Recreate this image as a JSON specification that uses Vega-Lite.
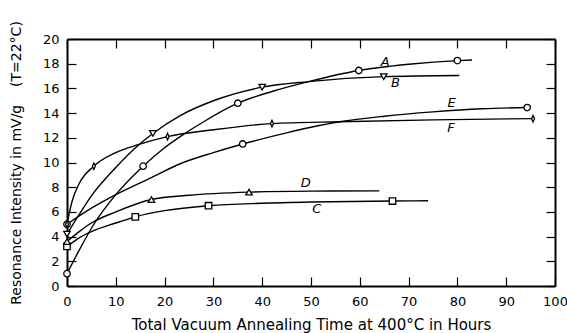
{
  "$schema": "https://vega.github.io/schema/vega-lite/v6.json",
  "width": 488,
  "height": 247,
  "autosize": {"type": "none"},
  "padding": {"left": 67, "top": 39, "right": 12, "bottom": 47},
  "background": "white",
  "config": {
    "view": {"stroke": null},
    "font": "DejaVu Sans",
    "axis": {
      "grid": false,
      "domainColor": "black",
      "domainWidth": 2,
      "tickColor": "black",
      "tickWidth": 1.2,
      "tickSize": -9,
      "labelColor": "black",
      "labelFont": "DejaVu Sans",
      "labelFontSize": 13,
      "titleColor": "black",
      "titleFont": "DejaVu Sans",
      "titleFontWeight": "normal"
    }
  },
  "datasets": {
    "curves": [
      {"series": "A", "x": 0, "y": 1.0}, {"series": "A", "x": 2.5, "y": 2.9}, {"series": "A", "x": 5.5, "y": 5.0},
      {"series": "A", "x": 10, "y": 7.4}, {"series": "A", "x": 15.6, "y": 9.7}, {"series": "A", "x": 20, "y": 11.2},
      {"series": "A", "x": 23.2, "y": 12.1}, {"series": "A", "x": 28, "y": 13.3}, {"series": "A", "x": 35, "y": 14.8},
      {"series": "A", "x": 42, "y": 15.75}, {"series": "A", "x": 49.5, "y": 16.55}, {"series": "A", "x": 59.8, "y": 17.45},
      {"series": "A", "x": 70, "y": 17.95}, {"series": "A", "x": 80, "y": 18.25}, {"series": "A", "x": 83, "y": 18.3},
      {"series": "B", "x": 0, "y": 4.2}, {"series": "B", "x": 2.5, "y": 5.8}, {"series": "B", "x": 5, "y": 7.3},
      {"series": "B", "x": 10, "y": 9.6}, {"series": "B", "x": 14.6, "y": 11.4}, {"series": "B", "x": 17.6, "y": 12.35},
      {"series": "B", "x": 23.2, "y": 13.8}, {"series": "B", "x": 30, "y": 15.0}, {"series": "B", "x": 40, "y": 16.1},
      {"series": "B", "x": 49.5, "y": 16.55}, {"series": "B", "x": 65, "y": 16.95}, {"series": "B", "x": 80.4, "y": 17.05},
      {"series": "C", "x": 0, "y": 3.2}, {"series": "C", "x": 2.5, "y": 3.9}, {"series": "C", "x": 5, "y": 4.4},
      {"series": "C", "x": 10, "y": 5.1}, {"series": "C", "x": 14, "y": 5.6}, {"series": "C", "x": 20, "y": 6.1},
      {"series": "C", "x": 29, "y": 6.5}, {"series": "C", "x": 40, "y": 6.7}, {"series": "C", "x": 50, "y": 6.8},
      {"series": "C", "x": 66.7, "y": 6.88}, {"series": "C", "x": 74, "y": 6.9},
      {"series": "D", "x": 0, "y": 3.6}, {"series": "D", "x": 2.5, "y": 4.4}, {"series": "D", "x": 5, "y": 5.1},
      {"series": "D", "x": 10, "y": 6.0}, {"series": "D", "x": 17.3, "y": 7.0}, {"series": "D", "x": 25, "y": 7.35},
      {"series": "D", "x": 37.3, "y": 7.6}, {"series": "D", "x": 50, "y": 7.68}, {"series": "D", "x": 64, "y": 7.7},
      {"series": "E", "x": 0, "y": 5.0}, {"series": "E", "x": 5, "y": 6.3}, {"series": "E", "x": 10, "y": 7.4},
      {"series": "E", "x": 17.4, "y": 8.8}, {"series": "E", "x": 23.2, "y": 9.9}, {"series": "E", "x": 30, "y": 10.8},
      {"series": "E", "x": 36, "y": 11.5}, {"series": "E", "x": 45, "y": 12.4}, {"series": "E", "x": 50, "y": 12.85},
      {"series": "E", "x": 55.9, "y": 13.3}, {"series": "E", "x": 65, "y": 13.75}, {"series": "E", "x": 75, "y": 14.1},
      {"series": "E", "x": 85, "y": 14.35}, {"series": "E", "x": 94.3, "y": 14.45},
      {"series": "F", "x": 0, "y": 5.0}, {"series": "F", "x": 1, "y": 6.8}, {"series": "F", "x": 2.5, "y": 8.3},
      {"series": "F", "x": 5.5, "y": 9.7}, {"series": "F", "x": 10, "y": 10.8}, {"series": "F", "x": 14.6, "y": 11.45},
      {"series": "F", "x": 20.6, "y": 12.1}, {"series": "F", "x": 30, "y": 12.65}, {"series": "F", "x": 42, "y": 13.15},
      {"series": "F", "x": 55.9, "y": 13.3}, {"series": "F", "x": 75, "y": 13.45}, {"series": "F", "x": 95.5, "y": 13.55}
    ],
    "points": [
      {"series": "A", "x": 0, "y": 1.0}, {"series": "A", "x": 15.6, "y": 9.7}, {"series": "A", "x": 35, "y": 14.8},
      {"series": "A", "x": 59.8, "y": 17.45}, {"series": "A", "x": 80, "y": 18.25},
      {"series": "B", "x": 0, "y": 4.2}, {"series": "B", "x": 17.6, "y": 12.35}, {"series": "B", "x": 40, "y": 16.1},
      {"series": "B", "x": 64.9, "y": 16.95},
      {"series": "C", "x": 0, "y": 3.2}, {"series": "C", "x": 14, "y": 5.6}, {"series": "C", "x": 29, "y": 6.5},
      {"series": "C", "x": 66.7, "y": 6.88},
      {"series": "D", "x": 0, "y": 3.6}, {"series": "D", "x": 17.3, "y": 7.0}, {"series": "D", "x": 37.3, "y": 7.6},
      {"series": "E", "x": 0, "y": 5.0}, {"series": "E", "x": 36, "y": 11.5}, {"series": "E", "x": 94.3, "y": 14.45},
      {"series": "F", "x": 0, "y": 5.0}, {"series": "F", "x": 5.5, "y": 9.7}, {"series": "F", "x": 20.6, "y": 12.1},
      {"series": "F", "x": 42, "y": 13.15}, {"series": "F", "x": 95.5, "y": 13.55}
    ],
    "labels": [
      {"label": "A", "x": 65.2, "y": 18.1},
      {"label": "B", "x": 67.3, "y": 16.4},
      {"label": "C", "x": 51.2, "y": 6.2},
      {"label": "D", "x": 48.9, "y": 8.3},
      {"label": "E", "x": 78.8, "y": 14.8},
      {"label": "F", "x": 78.7, "y": 12.8}
    ]
  },
  "resolve": {"axis": {"x": "independent", "y": "independent"}},
  "layer": [
    {
      "data": {"name": "curves"},
      "mark": {"type": "line", "interpolate": "monotone", "color": "black", "strokeWidth": 1.4},
      "encoding": {
        "x": {
          "field": "x", "type": "quantitative",
          "scale": {"domain": [0, 100], "nice": false, "zero": false},
          "axis": {
            "orient": "bottom",
            "values": [0, 10, 20, 30, 40, 50, 60, 70, 80, 90, 100],
            "title": "Total Vacuum Annealing Time at 400°C in Hours",
            "titleFontSize": 15,
            "labelPadding": 18,
            "titlePadding": 9,
            "labelFlush": false
          }
        },
        "y": {
          "field": "y", "type": "quantitative",
          "scale": {"domain": [0, 20], "nice": false, "zero": false},
          "axis": {
            "orient": "left",
            "values": [0, 2, 4, 6, 8, 10, 12, 14, 16, 18, 20],
            "title": "Resonance Intensity in mV/g\u00a0\u00a0\u00a0\u00a0(T=22°C)",
            "titleFontSize": 14,
            "labelPadding": 17,
            "titlePadding": 19,
            "labelFlush": false
          }
        },
        "detail": {"field": "series"}
      }
    },
    {
      "data": {"name": "points"},
      "mark": {"type": "point", "filled": true, "fill": "white", "stroke": "black", "strokeWidth": 1.3, "size": 42, "opacity": 1},
      "encoding": {
        "x": {"field": "x", "type": "quantitative", "axis": null},
        "y": {"field": "y", "type": "quantitative", "axis": null},
        "shape": {
          "field": "series", "type": "nominal", "legend": null,
          "scale": {
            "domain": ["A", "B", "C", "D", "E", "F"],
            "range": ["circle", "triangle-down", "square", "triangle-up", "circle", "M0,-1L0.45,0L0,1L-0.45,0Z"]
          }
        }
      }
    },
    {
      "data": {"name": "labels"},
      "mark": {"type": "text", "font": "DejaVu Sans", "fontSize": 13, "fontStyle": "italic", "color": "black", "align": "center", "baseline": "middle"},
      "encoding": {
        "x": {"field": "x", "type": "quantitative", "axis": null},
        "y": {"field": "y", "type": "quantitative", "axis": null},
        "text": {"field": "label"}
      }
    },
    {
      "data": {"name": "labels"},
      "mark": {"type": "point", "opacity": 0},
      "encoding": {
        "x": {
          "field": "x", "type": "quantitative",
          "axis": {"orient": "top", "values": [0, 10, 20, 30, 40, 50, 60, 70, 80, 90, 100], "labels": false, "title": null}
        },
        "y": {
          "field": "y", "type": "quantitative",
          "axis": {"orient": "right", "values": [0, 2, 4, 6, 8, 10, 12, 14, 16, 18, 20], "labels": false, "title": null}
        }
      }
    }
  ]
}
